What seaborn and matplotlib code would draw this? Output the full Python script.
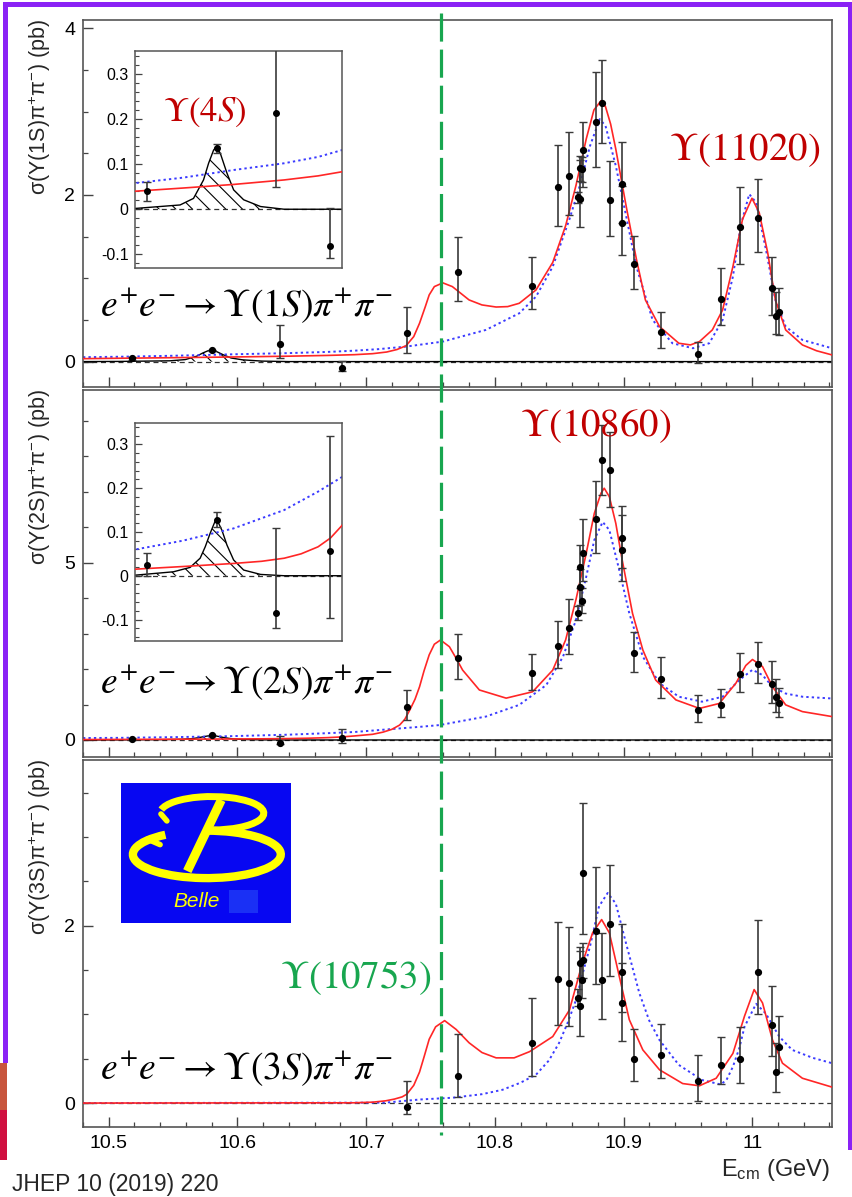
import matplotlib
matplotlib.use('Agg')
import numpy as np
import matplotlib.pyplot as plt
import matplotlib.transforms as mtransforms
from matplotlib.lines import Line2D
from matplotlib.patches import Rectangle, Arc
from matplotlib.ticker import FixedLocator, FixedFormatter, MultipleLocator, NullFormatter
import seaborn as sns

# ---------------- data ----------------
E_POINTS = [10.518, 10.580, 10.633, 10.681, 10.7316, 10.7717, 10.8292, 10.8494, 10.8577,
            10.8644, 10.8662, 10.8665, 10.8680, 10.8683, 10.8686, 10.8786, 10.8833, 10.8895,
            10.8990, 10.8992, 10.9080, 10.9290, 10.9580, 10.9755, 10.9907, 11.0047, 11.0153,
            11.0184, 11.0210]
NAN = float('nan')
Y_1S = [0.040, 0.135, 0.214, -0.081, 0.34, 1.08, 0.91, 2.09, 2.23,
        1.97, 1.95, 2.32, 2.31, 2.54, NAN, 2.87, 3.10, 1.94,
        2.13, 1.66, 1.17, 0.35, 0.09, 0.75, 1.61, 1.72, 0.88,
        0.55, 0.60]
UP_1S = [0.021, 0.010, 0.23, 0.083, 0.32, 0.42, 0.34, 0.51, 0.53,
         0.07, 0.47, 0.15, 0.15, 0.33, NAN, 0.60, 0.52, 0.47,
         0.51, 0.45, 0.34, 0.24, 0.15, 0.37, 0.49, 0.47, 0.37,
         0.29, 0.28]
DN_1S = [0.021, 0.010, 0.165, 0.028, 0.24, 0.35, 0.28, 0.46, 0.47,
         0.07, 0.34, 0.15, 0.15, 0.45, NAN, 0.54, 0.48, 0.43,
         0.47, 0.38, 0.30, 0.19, 0.11, 0.31, 0.44, 0.41, 0.32,
         0.22, 0.28]

Y_2S = [0.024, 0.127, -0.084, 0.056, 0.94, 2.30, 1.90, 2.65, 3.15,
        3.59, 4.31, 4.89, 3.93, 5.28, NAN, 6.23, 7.89, 7.61,
        5.69, 5.36, 2.45, 1.71, 0.85, 1.00, 1.86, 2.14, 1.58,
        1.22, 1.03]
UP_2S = [0.028, 0.019, 0.194, 0.263, 0.47, 0.68, 0.52, 0.71, 0.82,
         0.20, 0.50, 0.60, 0.35, 0.95, NAN, 1.07, 0.99, 1.08,
         0.91, 0.98, 0.60, 0.64, 0.42, 0.43, 0.58, 0.61, 0.65,
         0.49, 0.44]
DN_2S = [0.024, 0.015, 0.036, 0.152, 0.38, 0.59, 0.49, 0.63, 0.73,
         0.20, 0.50, 0.60, 0.35, 0.80, NAN, 0.97, 0.98, 1.05,
         0.84, 0.87, 0.52, 0.52, 0.33, 0.34, 0.50, 0.52, 0.53,
         0.44, 0.37]

Y_3S = [NAN, NAN, NAN, NAN, -0.04, 0.31, 0.68, 1.40, 1.36,
        1.19, 1.10, 1.585, 1.39, 1.61, 2.59, 1.94, 1.39, 2.02,
        1.48, 1.13, 0.50, 0.545, 0.244, 0.43, 0.50, 1.48, 0.88,
        0.35, 0.63]
UP_3S = [NAN, NAN, NAN, NAN, 0.29, 0.47, 0.50, 0.64, 0.63,
         0.10, 0.61, 0.17, 0.20, 0.20, 0.80, 0.72, 0.53, 0.67,
         0.54, 0.45, 0.34, 0.345, 0.30, 0.31, 0.36, 0.58, 0.44,
         0.33, 0.35]
DN_3S = [NAN, NAN, NAN, NAN, 0.08, 0.24, 0.38, 0.52, 0.49,
         0.10, 0.34, 0.17, 0.20, 0.20, 0.68, 0.60, 0.44, 0.59,
         0.45, 0.43, 0.25, 0.265, 0.22, 0.22, 0.275, 0.48, 0.35,
         0.23, 0.285]

# solid red fit curves
RED_1S_X = [10.480, 10.508, 10.550, 10.595, 10.640, 10.670, 10.691, 10.705, 10.716, 10.724,
            10.731, 10.737, 10.7415, 10.746, 10.749, 10.753, 10.7596, 10.767, 10.780, 10.790,
            10.801, 10.810, 10.819, 10.832, 10.845, 10.855, 10.863, 10.871, 10.877, 10.8825,
            10.886, 10.890, 10.894, 10.902, 10.910, 10.917, 10.928, 10.943, 10.952, 10.959,
            10.969, 10.977, 10.985, 10.9925, 10.9998, 11.0054, 11.012, 11.018, 11.026, 11.039,
            11.050, 11.062]
RED_1S_Y = [0.035, 0.040, 0.047, 0.055, 0.065, 0.074, 0.083, 0.095, 0.115, 0.145,
            0.19, 0.30, 0.46, 0.66, 0.80, 0.90, 0.945, 0.90, 0.74, 0.68,
            0.655, 0.66, 0.70, 0.86, 1.19, 1.63, 2.11, 2.67, 3.02, 3.13,
            3.06, 2.85, 2.55, 1.87, 1.23, 0.74, 0.42, 0.22, 0.20, 0.24,
            0.38, 0.62, 1.14, 1.71, 1.96, 1.79, 1.31, 0.74, 0.38, 0.20,
            0.13, 0.08]
RED_2S_X = [10.480, 10.508, 10.550, 10.595, 10.620, 10.640, 10.655, 10.670, 10.681, 10.691,
            10.705, 10.713, 10.720,
            10.726, 10.730, 10.734, 10.738, 10.7415, 10.745, 10.749, 10.753, 10.7578, 10.7647,
            10.770, 10.775, 10.788, 10.8088, 10.8294, 10.845, 10.855, 10.863, 10.871, 10.8773,
            10.8825, 10.885, 10.889, 10.894, 10.899, 10.907, 10.915, 10.925, 10.9407, 10.959,
            10.9744, 10.9873, 10.995, 11.0002, 11.008, 11.0158, 11.026, 11.039, 11.062]
RED_2S_Y = [0.012, 0.015, 0.021, 0.028, 0.033, 0.040, 0.050, 0.066, 0.086, 0.114,
            0.16, 0.22, 0.30,
            0.42, 0.58, 0.85, 1.15, 1.50, 1.95, 2.40, 2.70, 2.82, 2.63,
            2.30, 1.97, 1.41, 1.18, 1.36, 1.97, 2.82, 3.95, 5.26, 6.39,
            6.96, 7.10, 6.86, 6.11, 5.07, 3.57, 2.54, 1.69, 1.13, 0.89,
            1.03, 1.60, 2.10, 2.27, 2.07, 1.50, 0.99, 0.80, 0.66]
RED_3S_X = [10.480, 10.690, 10.705, 10.715, 10.722, 10.728, 10.7316, 10.737, 10.7415, 10.745,
            10.749, 10.754, 10.761, 10.770, 10.780, 10.790, 10.801, 10.815, 10.827, 10.845,
            10.858, 10.868, 10.876, 10.883, 10.889, 10.8967, 10.9045, 10.915, 10.928, 10.946,
            10.959, 10.972, 10.985, 10.994, 11.0015, 11.008, 11.0158, 11.0235, 11.039, 11.062]
RED_3S_Y = [0.0, 0.003, 0.01, 0.025, 0.045, 0.07, 0.10, 0.20, 0.35, 0.52,
            0.72, 0.86, 0.93, 0.83, 0.68, 0.57, 0.51, 0.51, 0.58, 0.75,
            1.05, 1.58, 1.92, 2.07, 1.92, 1.43, 0.94, 0.60, 0.375, 0.22,
            0.195, 0.28, 0.56, 0.98, 1.28, 1.13, 0.71, 0.45, 0.28, 0.18]

# dotted blue fit curves
BLUE_1S_X = [10.480, 10.508, 10.550, 10.595, 10.640, 10.670, 10.691, 10.710, 10.731, 10.7596,
             10.793, 10.819, 10.832, 10.845, 10.858, 10.866, 10.874, 10.8815, 10.886, 10.894,
             10.902, 10.910, 10.9226, 10.938, 10.954, 10.9666, 10.977, 10.985, 10.991, 10.9977,
             11.003, 11.0106, 11.018, 11.026, 11.039, 11.062]
BLUE_1S_Y = [0.053, 0.058, 0.070, 0.087, 0.102, 0.116, 0.131, 0.150, 0.18, 0.24,
             0.38, 0.58, 0.78, 1.14, 1.71, 2.11, 2.59, 2.91, 2.83, 2.35,
             1.75, 1.14, 0.50, 0.22, 0.16, 0.22, 0.50, 1.02, 1.63, 2.01,
             1.91, 1.35, 0.74, 0.42, 0.26, 0.16]
BLUE_2S_X = [10.480, 10.508, 10.550, 10.595, 10.640, 10.670, 10.691, 10.710, 10.7415, 10.757,
             10.793, 10.819, 10.840, 10.853, 10.863, 10.871, 10.8773, 10.8838, 10.889, 10.8967,
             10.9045, 10.915, 10.928, 10.943, 10.961, 10.977, 10.990, 11.0002, 11.008, 11.0158,
             11.026, 11.039, 11.062]
BLUE_2S_Y = [0.055, 0.060, 0.080, 0.108, 0.150, 0.192, 0.225, 0.28, 0.37, 0.42,
             0.66, 0.99, 1.55, 2.35, 3.38, 4.60, 5.64, 6.15, 5.92, 4.79,
             3.57, 2.35, 1.60, 1.22, 1.08, 1.22, 1.69, 1.98, 1.83, 1.50,
             1.31, 1.22, 1.17]
BLUE_3S_X = [10.480, 10.715, 10.7415, 10.767, 10.790, 10.806, 10.820, 10.832, 10.842, 10.850,
             10.857, 10.863, 10.869, 10.874, 10.881, 10.8877, 10.894, 10.902, 10.9123, 10.920,
             10.928, 10.943, 10.961, 10.9755, 10.980, 10.985, 10.990, 10.994, 11.003, 11.0106,
             11.021, 11.031, 11.047, 11.062]
BLUE_3S_Y = [0.0, 0.005, 0.04, 0.06, 0.10, 0.15, 0.23, 0.32, 0.48, 0.68,
             0.92, 1.16, 1.50, 1.77, 2.22, 2.37, 2.25, 1.80, 1.24, 0.93,
             0.71, 0.43, 0.26, 0.21, 0.26, 0.41, 0.62, 0.86, 1.12, 1.01,
             0.75, 0.60, 0.51, 0.45]

# black Upsilon(4S) contribution (hatched)
BW_1S_X = [10.480, 10.509, 10.5476, 10.5595, 10.5684, 10.5729, 10.5773, 10.5797, 10.5833,
           10.5892, 10.5951, 10.604, 10.619, 10.640, 11.062]
BW_1S_Y = [0.000, 0.002, 0.0095, 0.024, 0.065, 0.102, 0.131, 0.139, 0.124,
           0.080, 0.043, 0.021, 0.006, 0.000, 0.000]
BW_2S_X = [10.480, 10.5091, 10.5417, 10.5565, 10.5654, 10.5699, 10.5743, 10.5797, 10.5847,
           10.5892, 10.5951, 10.604, 10.619, 10.640, 11.062]
BW_2S_Y = [0.000, 0.0016, 0.009, 0.019, 0.040, 0.066, 0.097, 0.131, 0.104,
           0.070, 0.036, 0.013, 0.003, 0.000, 0.000]

E_Y10753_LINE = 10.758

X_TICKS = [10.5, 10.6, 10.7, 10.8, 10.9, 11.0]
X_TICK_LABELS = ['10.5', '10.6', '10.7', '10.8', '10.9', '11']
Y_TICKS = [[0, 2, 4], [0, 5], [0, 2]]
Y_TICK_LABELS = [['0', '2', '4'], ['0', '5'], ['0', '2']]
INSET_TICKS = [-0.1, 0.0, 0.1, 0.2, 0.3]
INSET_TICK_LABELS = ['-0.1', '0', '0.1', '0.2', '0.3']

Y_LABELS = [r'$\mathrm{\sigma(\Upsilon(1S)\pi^{+}\pi^{-})}$ (pb)',
            r'$\mathrm{\sigma(\Upsilon(2S)\pi^{+}\pi^{-})}$ (pb)',
            r'$\mathrm{\sigma(\Upsilon(3S)\pi^{+}\pi^{-})}$ (pb)']
PROCESS_LABELS = [r'$e^{+}e^{-}\rightarrow\Upsilon(1S)\pi^{+}\pi^{-}$',
                  r'$e^{+}e^{-}\rightarrow\Upsilon(2S)\pi^{+}\pi^{-}$',
                  r'$e^{+}e^{-}\rightarrow\Upsilon(3S)\pi^{+}\pi^{-}$']

# ---------------- style ----------------
sns.set_theme(style='ticks')
plt.rcParams['font.family'] = ['Liberation Sans', 'DejaVu Sans']
plt.rcParams['mathtext.fontset'] = 'custom'
plt.rcParams['mathtext.rm'] = 'Liberation Sans'
plt.rcParams['mathtext.it'] = 'Liberation Sans:italic'
plt.rcParams['mathtext.bf'] = 'Liberation Sans:bold'
plt.rcParams['hatch.linewidth'] = 0.8
plt.rcParams['hatch.color'] = 'black'
plt.rcParams['axes.unicode_minus'] = False

RED = '#ff2626'
BLUE = '#3b3bff'
DARKRED = '#c00000'
GREEN = '#18a64f'
FRAME = '#555555'
PURPLE = '#8a22f5'

W, H = 853, 1197
fig = plt.figure(figsize=(W / 100, H / 100), dpi=100)
fig.patch.set_facecolor('white')


def box(l, t, r, b):
    return [l / W, 1 - b / H, (r - l) / W, (b - t) / H]


def ftext(px, py, s, **kw):
    return fig.text(px / W, 1 - py / H, s, **kw)


PANEL_BOXES = [(83, 20, 832, 387), (83, 390, 832, 757), (83, 760, 832, 1127)]
YLIMS = [(-0.305, 4.1), (-0.48, 9.87), (-0.27, 3.87)]
YMINOR = [0.5, 1.0, 0.5]
XLIM = (10.480, 11.062)

panels = [
    (Y_1S, UP_1S, DN_1S, RED_1S_X, RED_1S_Y, BLUE_1S_X, BLUE_1S_Y, BW_1S_X, BW_1S_Y),
    (Y_2S, UP_2S, DN_2S, RED_2S_X, RED_2S_Y, BLUE_2S_X, BLUE_2S_Y, BW_2S_X, BW_2S_Y),
    (Y_3S, UP_3S, DN_3S, RED_3S_X, RED_3S_Y, BLUE_3S_X, BLUE_3S_Y, None, None),
]


def draw_content(ax, p, ms=4.2):
    y, up, dn, rx, ry, bx, by, kx, ky = p
    ax.axhline(0, color='#333333', lw=0.9, ls=(0, (4, 3)), zorder=1)
    if kx is not None:
        ax.fill_between(kx, 0, ky, facecolor='none', edgecolor='black', linewidth=0,
                        hatch='\\\\', zorder=1.5)
        sns.lineplot(x=np.array(kx), y=np.array(ky), ax=ax, color='black', lw=1.0,
                     estimator=None, sort=False, legend=False, zorder=2)
    sns.lineplot(x=np.array(bx), y=np.array(by), ax=ax, color=BLUE, lw=1.4,
                 linestyle=(0, (1.2, 1.6)), estimator=None, sort=False, legend=False, zorder=2.5)
    sns.lineplot(x=np.array(rx), y=np.array(ry), ax=ax, color=RED, lw=1.2,
                 estimator=None, sort=False, legend=False, zorder=3)
    ax.errorbar(E_POINTS, y, yerr=[dn, up], fmt='o', color='black', ms=ms,
                ecolor='#3a3a3a', elinewidth=1.2, capsize=3, capthick=1.0, zorder=4)


axes = []
for i, (bb, p) in enumerate(zip(PANEL_BOXES, panels)):
    ax = fig.add_axes(box(*bb))
    ax.set_zorder(1)
    draw_content(ax, p)
    ax.set_xlim(*XLIM)
    ax.set_ylim(*YLIMS[i])
    ax.set_xlabel('')
    ax.set_ylabel('')
    ax.xaxis.set_major_locator(FixedLocator(X_TICKS))
    ax.xaxis.set_minor_locator(MultipleLocator(0.02))
    ax.yaxis.set_major_locator(FixedLocator(Y_TICKS[i]))
    ax.yaxis.set_major_formatter(FixedFormatter(Y_TICK_LABELS[i]))
    ax.yaxis.set_minor_locator(MultipleLocator(YMINOR[i]))
    if i == 2:
        ax.xaxis.set_major_formatter(FixedFormatter(X_TICK_LABELS))
    else:
        ax.xaxis.set_major_formatter(NullFormatter())
    ax.tick_params(which='major', direction='in', length=7.2, width=1.0, color='#444444',
                   labelsize=14, pad=5.5, top=False, right=False, labelcolor='black')
    ax.tick_params(which='minor', direction='in', length=3.8, width=0.9, color='#444444',
                   top=False, right=False)
    for s in ax.spines.values():
        s.set_color(FRAME)
        s.set_linewidth(1.2)
    ax.set_facecolor('white')
    axes.append(ax)
    top = bb[1]
    ftext(40, top - 1, Y_LABELS[i], rotation=90, ha='center', va='top', fontsize=15.5)

# insets
INSET_BOXES = [(135, 51, 341.7, 268.3), (135, 423.3, 341.7, 641)]
INSET_YLIMS = [(-0.131, 0.351), (-0.149, 0.348)]
INSET_XLIM = (10.5076, 10.691)
insets = []
for j, (bb, yl) in enumerate(zip(INSET_BOXES, INSET_YLIMS)):
    ai = fig.add_axes(box(*bb))
    ai.set_zorder(5)
    ai.set_facecolor('white')
    draw_content(ai, panels[j], ms=4.0)
    ai.set_xlim(*INSET_XLIM)
    ai.set_ylim(*yl)
    ai.set_xlabel('')
    ai.set_ylabel('')
    ai.set_xticks([])
    ai.yaxis.set_major_locator(FixedLocator(INSET_TICKS))
    ai.yaxis.set_major_formatter(FixedFormatter(INSET_TICK_LABELS))
    ai.yaxis.set_minor_locator(MultipleLocator(0.02))
    ai.tick_params(which='major', direction='in', length=5, width=0.9, color='#444444',
                   labelsize=11.5, pad=4.5, labelcolor='black')
    ai.tick_params(which='minor', direction='in', length=2.6, width=0.8, color='#444444')
    for s in ai.spines.values():
        s.set_color(FRAME)
        s.set_linewidth(1.1)
    insets.append(ai)

# Upsilon(4S) label inside top inset
insets[0].text(205 / W, 1 - 112 / H, r'$\Upsilon(4S)$', transform=fig.transFigure,
               ha='center', va='center', color=DARKRED, fontsize=25, math_fontfamily='stix')

# process labels
for py, s in zip([305, 682, 1068], PROCESS_LABELS):
    ftext(100, py, s, ha='left', va='center', fontsize=27, color='black',
          math_fontfamily='stix', zorder=6)

ftext(745, 150, r'$\Upsilon(11020)$', ha='center', va='center', fontsize=28,
      color=DARKRED, math_fontfamily='stix', zorder=6)
ftext(596, 426, r'$\Upsilon(10860)$', ha='center', va='center', fontsize=28,
      color=DARKRED, math_fontfamily='stix', zorder=6)
ftext(356, 978, r'$\Upsilon(10753)$', ha='center', va='center', fontsize=28,
      color=GREEN, math_fontfamily='stix', zorder=6)

# x label
ftext(830, 1170, r'E$_{\mathrm{cm}}$ (GeV)', ha='right', va='center', fontsize=17)

# reference
ftext(12, 1184, 'JHEP 10 (2019) 220', ha='left', va='center', fontsize=16.5)

# green dashed line across the panels
trans = mtransforms.blended_transform_factory(axes[0].transData, fig.transFigure)
gl = Line2D([E_Y10753_LINE, E_Y10753_LINE], [1 - 13 / H, 1 - 1135 / H], transform=trans,
            color=GREEN, lw=2.3, dashes=(8.8, 2.5), zorder=10)
fig.add_artist(gl)

# Belle logo
YELLOW = '#ffff00'
al = fig.add_axes(box(121, 783.3, 291, 922.7))
al.set_zorder(6)
al.set_facecolor('#0707f2')
al.set_xlim(0, 1)
al.set_ylim(0, 1)
al.set_xticks([])
al.set_yticks([])
for s in al.spines.values():
    s.set_visible(False)
al.add_patch(Arc((0.505, 0.49), 0.87, 0.34, theta1=150, theta2=450, color=YELLOW, lw=6))
al.add_patch(Arc((0.535, 0.785), 0.61, 0.24, theta1=270, theta2=535, color=YELLOW, lw=5))
al.plot([0.59, 0.39], [0.88, 0.37], color=YELLOW, lw=6.5, solid_capstyle='butt')
al.plot([0.235, 0.27], [0.78, 0.73], color=YELLOW, lw=4, solid_capstyle='round')
al.plot([0.155, 0.23], [0.60, 0.56], color=YELLOW, lw=4, solid_capstyle='round')
al.add_patch(Rectangle((0.637, 0.07), 0.167, 0.164, color='#1a30f5', lw=0))
al.text(0.445, 0.155, 'Belle', color=YELLOW, fontsize=15, style='italic', ha='center',
        va='center')

# slide frame
for (x0, y0, x1, y1, c) in [(3, 2, 853, 7, PURPLE), (3, 2, 8, 1063, PURPLE),
                            (848, 2, 852, 1150, PURPLE), (0, 1063, 7, 1110, '#c8553d'),
                            (0, 1110, 7, 1160, '#d01040')]:
    fig.add_artist(Rectangle((x0 / W, 1 - y1 / H), (x1 - x0) / W, (y1 - y0) / H,
                             transform=fig.transFigure, color=c, lw=0, zorder=11))

fig.savefig('out.png', dpi=100)
